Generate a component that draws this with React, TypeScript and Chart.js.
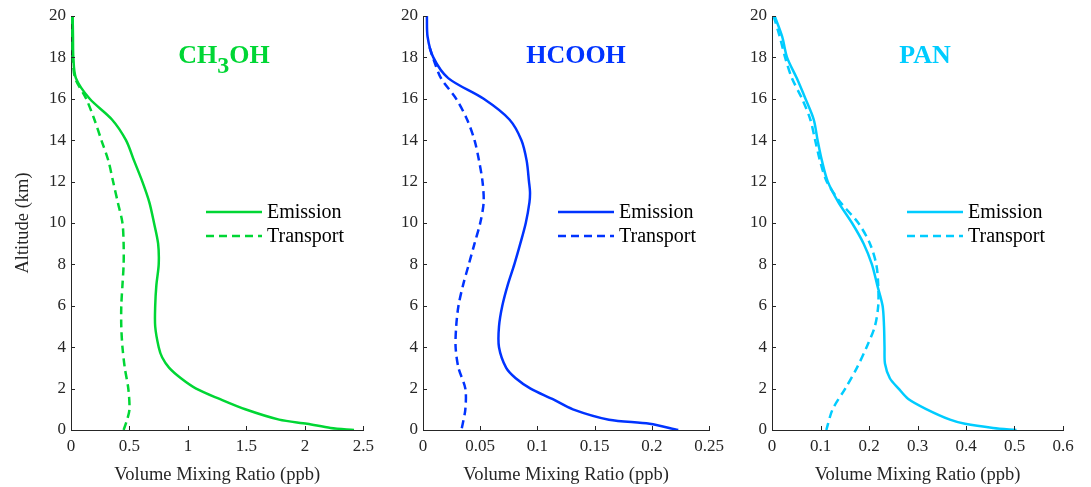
import React, { useEffect, useRef } from 'react';
import { Chart, registerables } from 'chart.js';

Chart.register(...registerables);

// ---------- data ----------
const CH3OH_EM_ALT = [20, 19, 18, 17, 16, 15, 14, 13, 12, 11, 10, 9, 8, 7, 6, 5, 4, 3.5, 3, 2.5, 2, 1.5, 1, 0.5, 0.3, 0.1, 0];
const CH3OH_EM = [0.014, 0.017, 0.02, 0.042, 0.16, 0.35, 0.47, 0.54, 0.61, 0.67, 0.71, 0.745, 0.75, 0.73, 0.72, 0.72, 0.75, 0.78, 0.84, 0.94, 1.07, 1.27, 1.49, 1.78, 2.02, 2.22, 2.42];
const CH3OH_TR_ALT = [20, 19, 18, 17, 16, 15, 14, 13, 12, 11, 10, 9, 8, 7, 6, 5, 4, 3, 2, 1, 0.5, 0];
const CH3OH_TR = [0.01, 0.012, 0.015, 0.035, 0.13, 0.2, 0.26, 0.32, 0.36, 0.4, 0.44, 0.45, 0.45, 0.44, 0.43, 0.43, 0.44, 0.46, 0.49, 0.5, 0.48, 0.45];

const HCOOH_EM_ALT = [20, 19, 18, 17, 16, 15, 14, 13, 12, 11.5, 11, 10, 9, 8, 7, 6, 5, 4, 3, 2.5, 2, 1.5, 1, 0.5, 0.3, 0];
const HCOOH_EM = [0.0034, 0.004, 0.009, 0.022, 0.053, 0.0755, 0.086, 0.0906, 0.0926, 0.0935, 0.093, 0.0898, 0.085, 0.0798, 0.074, 0.0693, 0.0664, 0.0664, 0.0727, 0.081, 0.094, 0.113, 0.131, 0.1625, 0.198, 0.223];
const HCOOH_TR_ALT = [18.5, 18, 17, 16, 15, 14, 13, 12, 11, 10, 9, 8, 7, 6, 5, 4, 3, 2, 1, 0];
const HCOOH_TR = [0.0057, 0.0086, 0.0157, 0.029, 0.0385, 0.045, 0.049, 0.052, 0.053, 0.05, 0.045, 0.04, 0.035, 0.031, 0.029, 0.0285, 0.031, 0.037, 0.037, 0.0336];

const PAN_EM_ALT = [20, 19, 18, 17, 16, 15, 14, 13, 12, 11, 10, 9, 8, 7, 6, 5, 4, 3.2, 2.5, 2, 1.5, 1, 0.5, 0.3, 0.1, 0];
const PAN_EM = [0.0055, 0.021, 0.031, 0.051, 0.069, 0.086, 0.094, 0.103, 0.115, 0.137, 0.165, 0.189, 0.206, 0.217, 0.228, 0.231, 0.232, 0.233, 0.243, 0.261, 0.281, 0.319, 0.367, 0.398, 0.456, 0.504];
const PAN_TR_ALT = [20, 19, 18, 17, 16, 15, 14, 13, 12, 11, 10, 9, 8, 7, 6, 5, 4, 3, 2, 1, 0];
const PAN_TR = [0.0034, 0.016, 0.027, 0.041, 0.062, 0.079, 0.089, 0.099, 0.113, 0.141, 0.178, 0.202, 0.215, 0.219, 0.219, 0.212, 0.195, 0.175, 0.151, 0.125, 0.112];

const SERIES_LABELS = ['Emission', 'Transport'];
const X_TITLE = 'Volume Mixing Ratio (ppb)';
const Y_TITLE = 'Altitude (km)';

// ---------- styling ----------
const FONT = "'Liberation Serif', 'Times New Roman', serif";
const AXIS_COLOR = '#262626';
const GREEN = 'rgb(0, 214, 52)';
const BLUE = 'rgb(0, 51, 255)';
const CYAN = 'rgb(0, 204, 255)';

type PanelCfg = {
  left: number;
  width: number;
  yAxisWidth: number;
  padRight: number;
  xMax: number;
  xStep: number;
  color: string;
  name: [string, string, string];
  em: [number[], number[]];
  tr: [number[], number[]];
  showYTitle: boolean;
};

const PANELS: PanelCfg[] = [
  { left: 0, width: 380, yAxisWidth: 71, padRight: 15, xMax: 2.5, xStep: 0.5, color: GREEN, name: ['CH', '3', 'OH'], em: [CH3OH_EM_ALT, CH3OH_EM], tr: [CH3OH_TR_ALT, CH3OH_TR], showYTitle: true },
  { left: 380, width: 350, yAxisWidth: 43, padRight: 14, xMax: 0.25, xStep: 0.05, color: BLUE, name: ['HCOOH', '', ''], em: [HCOOH_EM_ALT, HCOOH_EM], tr: [HCOOH_TR_ALT, HCOOH_TR], showYTitle: false },
  { left: 730, width: 361, yAxisWidth: 42, padRight: 28, xMax: 0.6, xStep: 0.1, color: CYAN, name: ['PAN', '', ''], em: [PAN_EM_ALT, PAN_EM], tr: [PAN_TR_ALT, PAN_TR], showYTitle: false },
];

const H = 487;
const TOP = 16;
const BOTTOM_AXIS_H = 57;
const DASH = [8, 5];

function zip(alt: number[], vals: number[]) {
  return vals.map((v, i) => ({ x: v, y: alt[i] }));
}

const fmt = (v: any) => String(Number(Number(v).toFixed(4)));

function makeDecor(p: PanelCfg) {
  return {
    id: 'decor',
    afterDraw(chart: any) {
      const { ctx, chartArea } = chart;
      const xs = chart.scales.x;
      const ys = chart.scales.y;
      ctx.save();
      // inward tick marks
      ctx.strokeStyle = AXIS_COLOR;
      ctx.lineWidth = 1;
      xs.ticks.forEach((t: any) => {
        const px = Math.round(xs.getPixelForValue(t.value)) + 0.5;
        ctx.beginPath();
        ctx.moveTo(px, chartArea.bottom);
        ctx.lineTo(px, chartArea.bottom - 4);
        ctx.stroke();
      });
      ys.ticks.forEach((t: any) => {
        const py = Math.round(ys.getPixelForValue(t.value)) + 0.5;
        ctx.beginPath();
        ctx.moveTo(chartArea.left, py);
        ctx.lineTo(chartArea.left + 4, py);
        ctx.stroke();
      });

      // species name
      const cx = chartArea.left + 153;
      const baseY = 63;
      ctx.fillStyle = p.color;
      ctx.textBaseline = 'alphabetic';
      ctx.textAlign = 'left';
      const mainFont = `bold 26px ${FONT}`;
      const subFont = `bold 24px ${FONT}`;
      ctx.font = mainFont;
      const w1 = ctx.measureText(p.name[0]).width;
      const w3 = ctx.measureText(p.name[2]).width;
      ctx.font = subFont;
      const w2 = p.name[1] ? ctx.measureText(p.name[1]).width : 0;
      let x0 = cx - (w1 + w2 + w3) / 2;
      ctx.font = mainFont;
      ctx.fillText(p.name[0], x0, baseY);
      x0 += w1;
      if (p.name[1]) {
        ctx.font = subFont;
        ctx.fillText(p.name[1], x0, baseY + 10);
        x0 += w2;
      }
      if (p.name[2]) {
        ctx.font = mainFont;
        ctx.fillText(p.name[2], x0, baseY);
      }

      // legend
      const lx0 = chartArea.left + 135;
      const lx1 = chartArea.left + 191;
      const rows = [212, 236];
      ctx.strokeStyle = p.color;
      ctx.lineWidth = 2.5;
      rows.forEach((ry, i) => {
        ctx.setLineDash(i === 1 ? DASH : []);
        ctx.beginPath();
        ctx.moveTo(lx0, ry);
        ctx.lineTo(lx1, ry);
        ctx.stroke();
      });
      ctx.setLineDash([]);
      ctx.fillStyle = '#000';
      ctx.font = `20px ${FONT}`;
      ctx.textBaseline = 'middle';
      rows.forEach((ry, i) => {
        ctx.fillText(SERIES_LABELS[i], lx1 + 5, ry + 1);
      });
      ctx.restore();
    },
  };
}

function Panel({ p }: { p: PanelCfg }) {
  const ref = useRef<HTMLCanvasElement | null>(null);
  useEffect(() => {
    if (!ref.current) return;
    const chart = new Chart(ref.current, {
      type: 'line',
      data: {
        datasets: [
          {
            label: SERIES_LABELS[0],
            data: zip(p.em[0], p.em[1]),
            borderColor: p.color,
            backgroundColor: p.color,
            borderWidth: 2.5,
            pointRadius: 0,
            tension: 0.3,
            fill: false,
          },
          {
            label: SERIES_LABELS[1],
            data: zip(p.tr[0], p.tr[1]),
            borderColor: p.color,
            backgroundColor: p.color,
            borderWidth: 2.5,
            borderDash: DASH,
            pointRadius: 0,
            tension: 0.3,
            fill: false,
          },
        ],
      },
      options: {
        responsive: false,
        animation: false,
        events: [],
        layout: { padding: { top: TOP, right: p.padRight, bottom: 0, left: 0 } },
        plugins: { legend: { display: false }, tooltip: { enabled: false } },
        scales: {
          x: {
            type: 'linear',
            min: 0,
            max: p.xMax,
            grid: { display: false, drawTicks: false },
            border: { display: true, color: AXIS_COLOR, width: 1 },
            ticks: { stepSize: p.xStep, color: AXIS_COLOR, font: { family: FONT, size: 17 }, padding: 6, maxRotation: 0, callback: fmt },
            title: { display: true, text: X_TITLE, color: AXIS_COLOR, font: { family: FONT, size: 18.5 }, padding: { top: 0, bottom: 1 } },
            afterFit: (s: any) => { s.height = BOTTOM_AXIS_H; },
          },
          y: {
            type: 'linear',
            min: 0,
            max: 20,
            grid: { display: false, drawTicks: false },
            border: { display: true, color: AXIS_COLOR, width: 1 },
            ticks: { stepSize: 2, color: AXIS_COLOR, font: { family: FONT, size: 17 }, padding: 5, callback: fmt },
            title: { display: p.showYTitle, text: Y_TITLE, color: AXIS_COLOR, font: { family: FONT, size: 18.5 }, padding: { top: 12, bottom: 0 } },
            afterFit: (s: any) => { s.width = p.yAxisWidth; },
          },
        },
      },
      plugins: [makeDecor(p)],
    } as any);
    return () => chart.destroy();
  }, [p]);
  return (
    <canvas
      ref={ref}
      width={p.width}
      height={H}
      style={{ position: 'absolute', left: p.left, top: 0, width: p.width, height: H }}
    />
  );
}

export default function App() {
  return (
    <div style={{ position: 'fixed', left: 0, top: 0, width: 1091, height: H, background: '#fff' }}>
      {PANELS.map((p, i) => (
        <Panel key={i} p={p} />
      ))}
    </div>
  );
}
